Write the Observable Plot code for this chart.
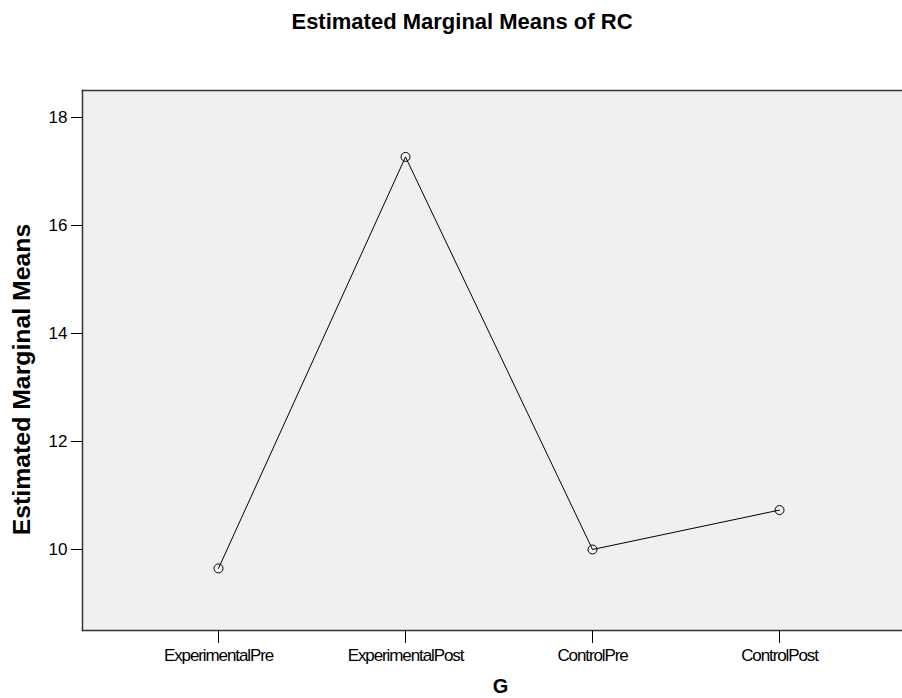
<!DOCTYPE html>
<html>
<head>
<meta charset="utf-8">
<script src="https://cdn.jsdelivr.net/npm/d3@7"></script>
<script src="https://cdn.jsdelivr.net/npm/@observablehq/plot@0.6"></script>
<style>
  html, body { margin: 0; padding: 0; background: white; overflow: hidden; }
  #title { position: relative; height: 50px; }
  #title span { position: absolute; top: 11px; left: 0; width: 924px; text-align: center;
    font-family: "Liberation Sans", Arial, sans-serif; font-size: 22px; font-weight: bold; line-height: 1; color: #000; }
  svg [aria-label="x-axis tick label"] text { letter-spacing: -1.1px; }
</style>
</head>
<body>
<div id="title"><span>Estimated Marginal Means of RC</span></div>
<div id="chart"></div>
<script>
const groups = ["ExperimentalPre", "ExperimentalPost", "ControlPre", "ControlPost"];
const means = [9.65, 17.27, 10.0, 10.73];
const yTicks = [10, 12, 14, 16, 18];
const yLabel = "Estimated Marginal Means";
const xLabel = "G";

const data = groups.map((g, i) => ({g, m: means[i]}));

const chart = Plot.plot({
  width: 902,
  height: 648,
  marginTop: 40,
  marginBottom: 68,
  marginLeft: 82,
  marginRight: 0,
  style: {fontFamily: "Liberation Sans, Arial, sans-serif", fontSize: "17px", background: "white", color: "black"},
  x: {type: "point", domain: groups, range: [217.3, 780], padding: 0, label: null},
  y: {domain: [8.5, 18.5], label: null},
  marks: [
    Plot.frame({fill: "#f0f0f0", stroke: "none"}),
    Plot.frame({anchor: "left", stroke: "#333", strokeWidth: 1.5}),
    Plot.frame({anchor: "top", stroke: "#333", strokeWidth: 1.5}),
    Plot.frame({anchor: "bottom", stroke: "#333", strokeWidth: 1.5}),
    Plot.axisY({ticks: yTicks, tickSize: 11, tickPadding: 4, fontSize: 17, label: null, tickFormat: d => d}),
    Plot.axisX({tickSize: 13, tickPadding: 5, fontSize: 17, label: null}),
    Plot.line(data, {x: "g", y: "m", stroke: "black", strokeWidth: 1}),
    Plot.dot(data, {x: "g", y: "m", r: 4.5, stroke: "black", fill: "none", strokeWidth: 1}),
    Plot.text([yLabel], {frameAnchor: "left", text: d => d, rotate: -90, textAnchor: "middle", lineAnchor: "middle", dx: -60, dy: 19, fontSize: 24.8, fontWeight: "bold", fill: "black"}),
    Plot.text([xLabel], {frameAnchor: "bottom", text: d => d, textAnchor: "middle", lineAnchor: "middle", dx: 8, dy: 56.5, fontSize: 20, fontWeight: "bold", fill: "black"})
  ]
});
document.getElementById("chart").appendChild(chart);
</script>
</body>
</html>
